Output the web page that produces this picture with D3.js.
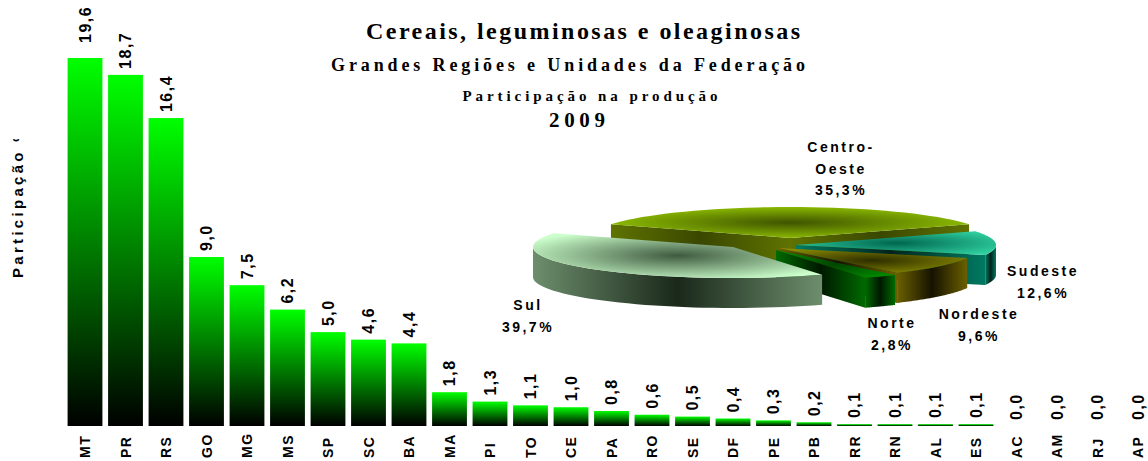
<!DOCTYPE html>
<html>
<head>
<meta charset="utf-8">
<script src="https://cdn.jsdelivr.net/npm/d3@7"></script>
<style>
  body { margin: 0; background: #fff; }
  text { font-family: "Liberation Sans", Arial, sans-serif; font-weight: bold; fill: #000; }
  .serif { font-family: "Liberation Serif", "Times New Roman", serif; }
</style>
</head>
<body>
<script>
const w = 1148;
const h = 461;

// bar data: share of production by state (%)
const states = ["MT","PR","RS","GO","MG","MS","SP","SC","BA","MA","PI","TO","CE","PA","RO","SE","DF","PE","PB","RR","RN","AL","ES","AC","AM","RJ","AP"];
const values = [19.6,18.7,16.4,9.0,7.5,6.2,5.0,4.6,4.4,1.8,1.3,1.1,1.0,0.8,0.6,0.5,0.4,0.3,0.2,0.1,0.1,0.1,0.1,0.0,0.0,0.0,0.0];

// pie data: share by region (%)
const regions = ["Centro-Oeste","Sudeste","Nordeste","Norte","Sul"];
const shares = [35.3,12.6,9.6,2.8,39.7];
const regionLines = [["Centro-","Oeste"],["Sudeste"],["Nordeste"],["Norte"],["Sul"]];

const fmt = v => d3.format(".1f")(v).replace(".", ",");

const svg = d3.select("body")
  .append("svg")
  .attr("width", w)
  .attr("height", h);

const defs = svg.append("defs");

// BAR GRADIENT
const bg = defs.append("linearGradient")
  .attr("id", "barGrad")
  .attr("x1", 0).attr("y1", 0).attr("x2", 0).attr("y2", 1);
bg.append("stop").attr("offset", "0%").attr("stop-color", "#00ff00");
bg.append("stop").attr("offset", "100%").attr("stop-color", "#000000");

// SCALES
const xScale = d3.scaleBand()
  .domain(states)
  .range([64.75, 64.75 + 27 * 40.5])
  .paddingInner(0.14)
  .paddingOuter(0.07);

const yScale = d3.scaleLinear()
  .domain([0, 19.6])
  .range([426, 58]);

const bars = states.map((s, i) => ({ s, v: values[i] }));

// BARS
svg.append("g")
  .selectAll("rect")
  .data(bars)
  .join("rect")
  .attr("x", d => xScale(d.s))
  .attr("y", d => yScale(d.v))
  .attr("width", xScale.bandwidth())
  .attr("height", d => yScale(0) - yScale(d.v))
  .attr("fill", "url(#barGrad)");

// VALUE LABELS (the tallest one is pushed up a little, as in the original)
const maxV = d3.max(values);
svg.append("g")
  .selectAll("text")
  .data(bars)
  .join("text")
  .attr("transform", d => `translate(${xScale(d.s) + xScale.bandwidth() / 2}, ${yScale(d.v) - (d.v === maxV ? 15 : 6)}) rotate(-90)`)
  .attr("dy", "0.36em")
  .style("font-size", "16px")
  .style("letter-spacing", "1.5px")
  .text(d => fmt(d.v));

// X AXIS LABELS
svg.append("g")
  .selectAll("text")
  .data(states)
  .join("text")
  .attr("transform", d => `translate(${xScale(d) + xScale.bandwidth() / 2}, 458) rotate(-90)`)
  .attr("dy", "0.36em")
  .style("font-size", "14px")
  .style("letter-spacing", "1.5px")
  .text(d => d);

// Y LABEL (the % sign is clipped in the original)
defs.append("clipPath").attr("id", "ylab")
  .append("rect").attr("x", 0).attr("y", 139).attr("width", 40).attr("height", 160);
svg.append("g")
  .attr("clip-path", "url(#ylab)")
  .append("text")
  .attr("transform", "translate(18, 278) rotate(-90)")
  .attr("dy", "0.36em")
  .style("font-size", "15px")
  .style("letter-spacing", "3.3px")
  .text("Participação %");

// TITLES
const titles = [
  { t: "Cereais, leguminosas e oleaginosas", x: 583, y: 39, size: 24, len: 434 },
  { t: "Grandes Regiões e Unidades da Federação", x: 568, y: 71, size: 18, len: 474 },
  { t: "Participação na produção", x: 590, y: 101, size: 15, len: 255 },
  { t: "2009", x: 577, y: 127, size: 21, len: 56 }
];
svg.append("g")
  .selectAll("text")
  .data(titles)
  .join("text")
  .attr("class", "serif")
  .attr("x", d => d.x)
  .attr("y", d => d.y)
  .attr("text-anchor", "middle")
  .attr("textLength", d => d.len)
  .attr("lengthAdjust", "spacing")
  .style("font-size", d => d.size + "px")
  .text(d => d.t);

// 3D PIE
const cx = 790, cy = 238, rx = 200, ry = 31, depth = 30;
const start = -shares[0] / 100 * Math.PI;

const style = {
  "Centro-Oeste": { top: "#99cc00", dark: "#3f5500", wall: "#5f7300", wallDark: "#3a4700", off: [0, 0] },
  "Sudeste":      { top: "#2fd0a0", dark: "#00664f", wall: "#007a62", wallDark: "#00241c", off: [6, 7] },
  "Nordeste":     { top: "#8a8a00", dark: "#2e2e00", wall: "#6b6000", wallDark: "#161200", off: [-12, 10] },
  "Norte":        { top: "#008a00", dark: "#004400", wall: "#006a00", wallDark: "#001800", off: [-14, 12] },
  "Sul":          { top: "#ccffcc", dark: "#3f5a3f", wall: "#6d8e6d", wallDark: "#1a281a", off: [-57, 9] }
};

const pie = d3.pie()
  .sort(null)
  .value(d => d.v)
  .startAngle(start)
  .endAngle(start + 2 * Math.PI);

const slices = pie(regions.map((r, i) => ({ r, v: shares[i], lines: regionLines[i] })));

const pt = (a, o, z) => [cx + o[0] + rx * Math.sin(a), cy + o[1] - ry * Math.cos(a) + z];
const arcPts = (a0, a1, o, z) => d3.range(41).map(k => pt(a0 + (a1 - a0) * k / 40, o, z));
const line = d3.line();

regions.forEach(r => {
  const s = style[r];
  const id = r.replace(/[^a-z]/gi, "");
  const rg = defs.append("radialGradient").attr("id", "top" + id)
    .attr("cx", 0.5).attr("cy", 0.5).attr("r", 0.6);
  rg.append("stop").attr("offset", "0%").attr("stop-color", s.dark);
  rg.append("stop").attr("offset", "100%").attr("stop-color", s.top);
  const wg = defs.append("linearGradient").attr("id", "wall" + id)
    .attr("x1", 0).attr("y1", 0).attr("x2", 1).attr("y2", 0);
  wg.append("stop").attr("offset", "0%").attr("stop-color", s.wall);
  wg.append("stop").attr("offset", "50%").attr("stop-color", s.wallDark);
  wg.append("stop").attr("offset", "100%").attr("stop-color", s.wall);
});

const order = ["Centro-Oeste", "Sudeste", "Nordeste", "Norte", "Sul"];
const pg = svg.append("g");

order.forEach(r => {
  const d = slices.find(p => p.data.r === r);
  const s = style[r];
  const o = s.off;
  const id = r.replace(/[^a-z]/gi, "");
  const apexT = [cx + o[0], cy + o[1]];
  const apexB = [cx + o[0], cy + o[1] + depth];
  const g = pg.append("g");

  // radial faces facing the viewer
  if (Math.sin(d.startAngle) < 0) {
    g.append("path")
      .attr("d", line([apexT, pt(d.startAngle, o, 0), pt(d.startAngle, o, depth), apexB]) + "Z")
      .attr("fill", "url(#wall" + id + ")");
  }
  if (Math.sin(d.endAngle) > 0) {
    g.append("path")
      .attr("d", line([apexT, pt(d.endAngle, o, 0), pt(d.endAngle, o, depth), apexB]) + "Z")
      .attr("fill", "url(#wall" + id + ")");
  }

  // outer wall, front half only
  const a0 = Math.max(d.startAngle, Math.PI / 2);
  const a1 = Math.min(d.endAngle, 3 * Math.PI / 2);
  if (a0 < a1) {
    const pts = arcPts(a0, a1, o, 0).concat(arcPts(a1, a0, o, depth));
    g.append("path")
      .attr("d", line(pts) + "Z")
      .attr("fill", "url(#wall" + id + ")");
  }

  // top face
  g.append("path")
    .attr("d", line([apexT].concat(arcPts(d.startAngle, d.endAngle, o, 0))) + "Z")
    .attr("fill", "url(#top" + id + ")");
});

// PIE LABELS
const labelPos = {
  "Centro-Oeste": [841, 152],
  "Sudeste": [1043, 276],
  "Nordeste": [979, 319],
  "Norte": [892, 328],
  "Sul": [528, 310]
};
slices.forEach(d => {
  const [lx, ly] = labelPos[d.data.r];
  const t = svg.append("text")
    .attr("text-anchor", "middle")
    .style("font-size", "14px")
    .style("letter-spacing", "2.5px");
  d.data.lines.concat([fmt(d.data.v) + "%"]).forEach((txt, i) => {
    t.append("tspan")
      .attr("x", lx)
      .attr("y", ly + i * 21.5)
      .text(txt);
  });
});
</script>
</body>
</html>
